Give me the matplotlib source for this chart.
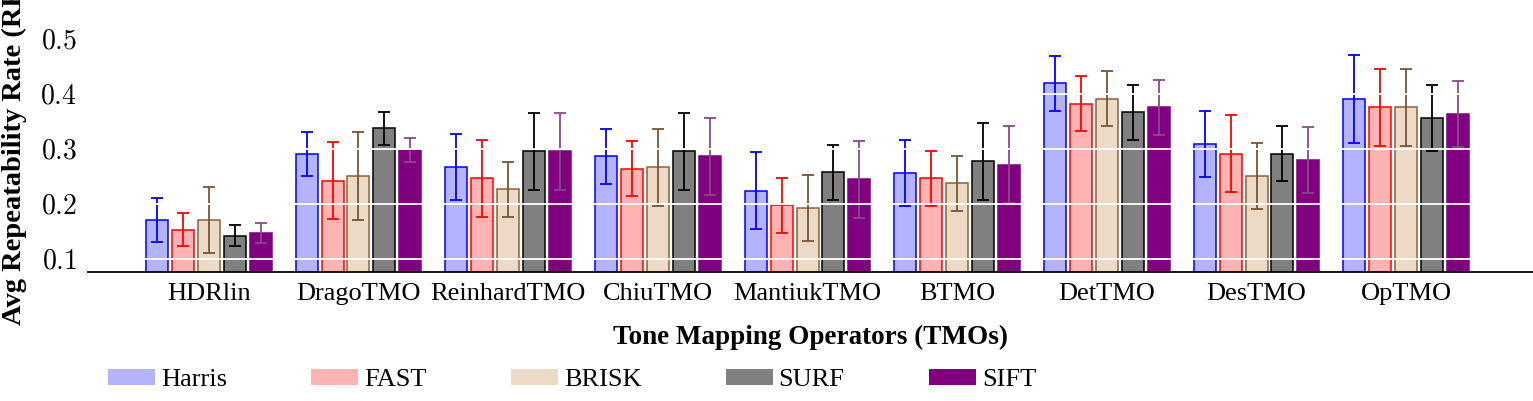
import numpy as np
from matplotlib import pyplot as plt
from matplotlib.patches import Patch
from matplotlib.ticker import FuncFormatter

plt.rcParams['font.family'] = ['Liberation Serif', 'DejaVu Serif']
plt.rcParams['mathtext.fontset'] = 'cm'

# Tone mapping operators on the x axis
tmos = ["HDRlin", "DragoTMO", "ReinhardTMO", "ChiuTMO", "MantiukTMO",
        "BTMO", "DetTMO", "DesTMO", "OpTMO"]
detectors = ["Harris", "FAST", "BRISK", "SURF", "SIFT"]

# Average repeatability rate per detector
harris = [0.171, 0.291, 0.267, 0.287, 0.224, 0.256, 0.420, 0.309, 0.391]
fast = [0.153, 0.242, 0.247, 0.264, 0.198, 0.247, 0.382, 0.291, 0.376]
brisk = [0.171, 0.251, 0.227, 0.267, 0.193, 0.238, 0.391, 0.251, 0.376]
surf = [0.142, 0.338, 0.296, 0.296, 0.258, 0.278, 0.367, 0.291, 0.356]
sift = [0.147, 0.298, 0.296, 0.287, 0.245, 0.271, 0.376, 0.280, 0.364]

# Error bar half lengths
harris_err = [0.040, 0.040, 0.060, 0.050, 0.070, 0.060, 0.050, 0.060, 0.080]
fast_err = [0.030, 0.070, 0.070, 0.050, 0.050, 0.050, 0.050, 0.070, 0.070]
brisk_err = [0.060, 0.080, 0.050, 0.070, 0.060, 0.050, 0.050, 0.060, 0.070]
surf_err = [0.019, 0.030, 0.070, 0.070, 0.050, 0.070, 0.050, 0.050, 0.060]
sift_err = [0.018, 0.022, 0.070, 0.070, 0.070, 0.070, 0.050, 0.060, 0.060]

values = [harris, fast, brisk, surf, sift]
errors = [harris_err, fast_err, brisk_err, surf_err, sift_err]
fills = ["#b3b3ff", "#ffb3b3", "#ecd9c6", "#808080", "#800080"]
edges = ["#0000ff", "#ff0000", "#8c6239", "#000000", "#800080"]
err_colors = ["#0000ff", "#ff0000", "#7a5535", "#000000", "#8a4a8a"]

fig = plt.figure(figsize=(15.33, 4.01), dpi=100)
ax = fig.add_axes([88 / 1533, 1 - 272 / 401, 1 - 88 / 1533, 272 / 401])

x = np.arange(len(tmos))
width = 0.147
step = 0.173
for i, name in enumerate(detectors):
    pos = x + (i - 2) * step
    ax.bar(pos, values[i], width, color=fills[i], edgecolor=edges[i],
           linewidth=1.1, zorder=1)
    ax.errorbar(pos, values[i], yerr=errors[i], fmt='none',
                ecolor=err_colors[i], elinewidth=1.3, capsize=4,
                capthick=1.3, zorder=2)

# white grid lines drawn over the bars
ax.yaxis.grid(True, color="white", linewidth=1.3, zorder=3)
ax.set_axisbelow(False)

ax.set_xlim(-0.807, 8.847)
ax.set_ylim(0.0764, 0.571)
ax.set_yticks([0.1, 0.2, 0.3, 0.4, 0.5])
ax.yaxis.set_major_formatter(FuncFormatter(lambda v, p: f"${v:.1f}$"))
ax.set_xticks(x)
ax.set_xticklabels(tmos)
ax.tick_params(axis="x", length=0, labelsize=19, pad=8)
ax.tick_params(axis="y", length=0, labelsize=20, pad=8)

for side in ["top", "right", "left"]:
    ax.spines[side].set_visible(False)
ax.spines["bottom"].set_linewidth(1.3)

ax.set_ylabel("Avg Repeatability Rate (RR)", fontsize=20.5, fontweight="bold")
ax.yaxis.set_label_coords(-0.042, 0.445)
ax.set_xlabel("Tone Mapping Operators (TMOs)", fontsize=19.5, fontweight="bold")
ax.xaxis.set_label_coords(0.5, -0.195)

handles = [Patch(facecolor=fills[i], edgecolor="none") for i in range(5)]
fig.legend(handles, detectors, loc="center left",
           bbox_to_anchor=(108 / 1533, 1 - 380 / 401), ncol=5,
           frameon=False, fontsize=19, borderpad=0, borderaxespad=0,
           handlelength=1.78, handleheight=0.55, handletextpad=0.22,
           columnspacing=3.2)

plt.savefig("out.png", dpi=100)
